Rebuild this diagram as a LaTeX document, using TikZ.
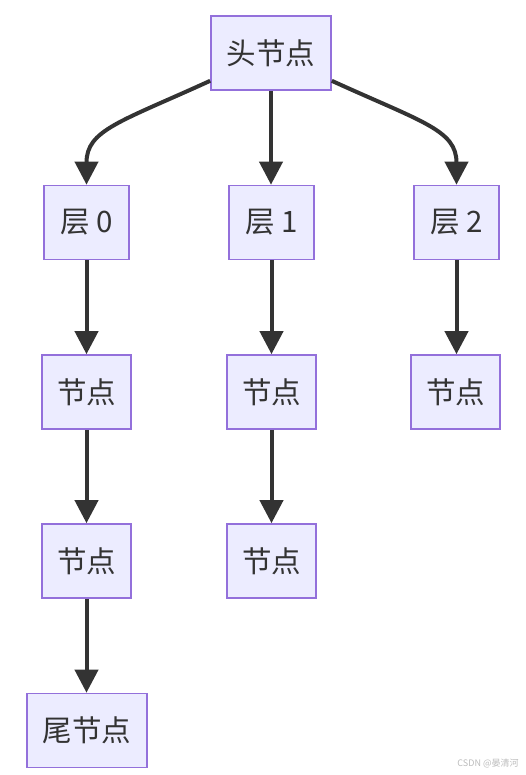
\documentclass[tikz,border=0pt]{standalone}
\usepackage{fontspec}
\setmainfont{Noto Sans CJK SC}
\usetikzlibrary{arrows.meta,calc}
\definecolor{BoxFill}{HTML}{ECECFF}
\definecolor{BoxLine}{HTML}{9370DB}
\definecolor{EdgeClr}{HTML}{333333}
\definecolor{MarkClr}{HTML}{BBBBBB}

\begin{document}
\begin{tikzpicture}[x=1pt,y=1pt,
  box/.style={draw=BoxLine,fill=BoxFill,line width=1.6pt,text=EdgeClr,
    font=\fontsize{29.5}{32}\selectfont,minimum height=74pt,inner sep=0pt},
  wide/.style={box,minimum width=120pt},
  layer/.style={box,minimum width=85pt},
  item/.style={box,minimum width=89pt},
  edge/.style={draw=EdgeClr,line width=4pt,-{Triangle[length=23pt,width=23pt]}}]
\useasboundingbox (0,0) rectangle (525,-775);

\node[wide] (head) at (271,-53) {头节点};

\node[layer] (lay0) at (86.5,-222.5) {层 0};
\node[layer] (lay1) at (271.5,-222.5) {层 1};
\node[layer] (lay2) at (456.5,-222.5) {层 2};

\node[item] (n01) at (86.5,-392) {节点};
\node[item] (n11) at (271.5,-392) {节点};
\node[item] (n21) at (455.5,-392) {节点};

\node[item] (n02) at (86.5,-561) {节点};
\node[item] (n12) at (271.5,-561) {节点};

\node[wide] (tail) at (87,-730.5) {尾节点};

% from the head to the layers
\draw[edge] ($(head.south west)+(0,10)$) .. controls (120,-122) and (86.5,-130) .. (lay0.north);
\draw[edge] (head.south) -- (head.south |- lay1.north);
\draw[edge] ($(head.south east)+(0,10)$) .. controls (422,-122) and (456.5,-130) .. (lay2.north);

\draw[edge] (lay0) -- (n01);
\draw[edge] (n01) -- (n02);
\draw[edge] (n02.south) -- (n02.south |- tail.north);
\draw[edge] (lay1) -- (n11);
\draw[edge] (n11) -- (n12);
\draw[edge] (lay2.south) -- (lay2.south |- n21.north);

\node[text=MarkClr,font=\fontsize{9}{10}\selectfont] (mark) at (488,-763) {CSDN @晏清河};
\end{tikzpicture}
\end{document}
